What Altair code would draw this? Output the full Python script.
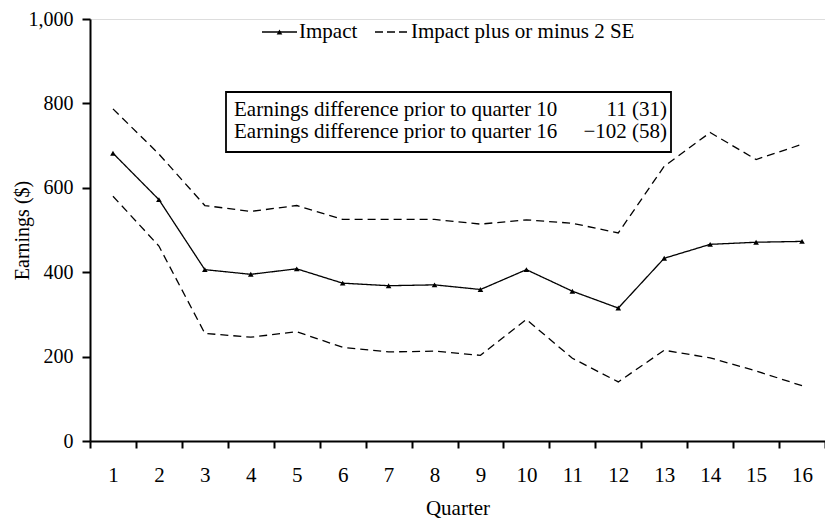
import altair as alt
import pandas as pd

quarters = list(range(1, 17))
impact = [682, 572, 406, 395, 408, 374, 368, 370, 359, 406, 355, 315, 433, 466, 471, 473]
upper = [787, 680, 558, 544, 558, 525, 525, 525, 514, 524, 516, 493, 651, 731, 667, 703]
lower = [580, 462, 255, 246, 259, 222, 211, 213, 203, 288, 196, 140, 215, 197, 166, 131]
y_ticks = [0, 200, 400, 600, 800, 1000]
legend_labels = ["Impact", "Impact plus or minus 2 SE"]
box_left = ["Earnings difference prior to quarter 10", "Earnings difference prior to quarter 16"]
box_right = ["11 (31)", "\u2212102 (58)"]

FONT = "Times New Roman, Liberation Serif, DejaVu Serif, serif"
FS = 21

rows = []
for name, vals in [("Impact", impact), ("Upper", upper), ("Lower", lower)]:
    for q, v in zip(quarters, vals):
        rows.append({"quarter": q, "value": v, "series": name})
df = pd.DataFrame(rows)

x_enc = alt.X(
    "quarter:O",
    title="Quarter",
    scale=alt.Scale(paddingInner=0, paddingOuter=0),
    axis=alt.Axis(
        labelAngle=0, tickBand="extent", labelPadding=16, titlePadding=12,
        domainColor="black", domainWidth=2, tickColor="black", tickWidth=2, tickSize=7,
        labelFont=FONT, labelFontSize=FS, labelColor="black",
        titleFont=FONT, titleFontSize=FS, titleFontWeight="normal", titleColor="black",
    ),
)
y_enc = alt.Y(
    "value:Q",
    title="Earnings ($)",
    scale=alt.Scale(domain=[0, 1000], nice=False),
    axis=alt.Axis(
        values=y_ticks, format=",.0f", grid=False, labelPadding=9, titlePadding=-4,
        domainColor="black", domainWidth=2, tickColor="black", tickWidth=2, tickSize=8,
        labelFont=FONT, labelFontSize=20, labelColor="black",
        titleFont=FONT, titleFontSize=20, titleFontWeight="normal", titleColor="black",
    ),
)

lines = alt.Chart(df).mark_line(color="black", strokeWidth=1.3).encode(
    x=x_enc,
    y=y_enc,
    detail="series:N",
    strokeDash=alt.StrokeDash(
        "series:N",
        scale=alt.Scale(domain=["Impact", "Upper", "Lower"], range=[[1, 0], [8, 5], [8, 5]]),
        legend=None,
    ),
)

points = alt.Chart(df[df.series == "Impact"]).mark_point(
    shape="triangle-up", filled=True, color="black", size=32, opacity=1
).encode(x="quarter:O", y="value:Q")

one = alt.Data(values=[{}])
leg_y = 13
legend_layers = [
    alt.Chart(one).mark_rule(color="black", strokeWidth=1.3).encode(
        x=alt.value(172), x2=alt.value(207), y=alt.value(leg_y)),
    alt.Chart(one).mark_point(shape="triangle-up", filled=True, color="black", size=32, opacity=1).encode(
        x=alt.value(189.5), y=alt.value(leg_y)),
    alt.Chart(one).mark_text(align="left", baseline="middle", font=FONT, fontSize=FS, color="black").encode(
        x=alt.value(209), y=alt.value(leg_y), text=alt.value(legend_labels[0])),
    alt.Chart(one).mark_rule(color="black", strokeWidth=1.3, strokeDash=[8, 4]).encode(
        x=alt.value(285), x2=alt.value(318), y=alt.value(leg_y)),
    alt.Chart(one).mark_text(align="left", baseline="middle", font=FONT, fontSize=FS, color="black").encode(
        x=alt.value(321), y=alt.value(leg_y), text=alt.value(legend_labels[1])),
]

box_layers = [
    alt.Chart(one).mark_rect(fill="white", stroke="black", strokeWidth=1.8).encode(
        x=alt.value(136), x2=alt.value(581), y=alt.value(73), y2=alt.value(133)),
]
for i, (lt, rt) in enumerate(zip(box_left, box_right)):
    yy = 91 + 22 * i
    box_layers.append(
        alt.Chart(one).mark_text(align="left", baseline="middle", font=FONT, fontSize=FS, color="black").encode(
            x=alt.value(144), y=alt.value(yy), text=alt.value(lt)))
    box_layers.append(
        alt.Chart(one).mark_text(align="right", baseline="middle", font=FONT, fontSize=FS, color="black").encode(
            x=alt.value(577), y=alt.value(yy), text=alt.value(rt)))

chart = alt.layer(lines, points, *legend_layers, *box_layers).properties(
    width=735, height=422,
    autosize=alt.AutoSizeParams(type="none"),
    padding={"left": 82, "top": 11, "right": 0, "bottom": 78},
).configure_view(stroke=None).configure(background="white")

chart.save("out.html", embed_options={"renderer": "svg", "actions": False})
